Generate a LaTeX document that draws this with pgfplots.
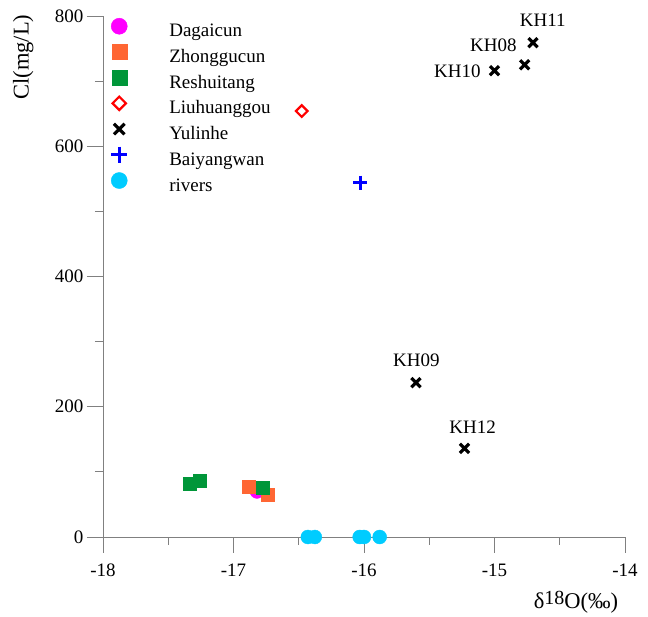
\documentclass[border=0pt]{standalone}
\usepackage{fontspec}
\setmainfont{Liberation Serif}
\usepackage{pgfplots}
\pgfplotsset{compat=1.18}

\definecolor{cDagai}{RGB}{255,0,255}
\definecolor{cZhong}{RGB}{255,102,51}
\definecolor{cReshui}{RGB}{0,150,57}
\definecolor{cLiu}{RGB}{255,0,0}
\definecolor{cBai}{RGB}{0,0,255}
\definecolor{cRiver}{RGB}{0,204,255}
\definecolor{axisgray}{RGB}{128,128,128}

\newcommand{\tickfont}{\fontsize{19}{23}\selectfont}
\newcommand{\labelfont}{\fontsize{22.5}{27}\selectfont}

\begin{document}
\begin{tikzpicture}[font=\tickfont]
\useasboundingbox (-103pt,-80pt) rectangle (545pt,537pt);
\begin{axis}[
  at={(0pt,0pt)}, anchor=south west,
  scale only axis, width=522pt, height=521pt,
  xmin=-18, xmax=-14, ymin=0, ymax=800,
  axis x line=bottom, axis y line=left,
  axis line style={-, axisgray, line width=0.8pt},
  xtick={-18,-17,-16,-15,-14},
  ytick={0,200,400,600,800},
  minor x tick num=1, minor y tick num=1,
  tick align=outside,
  major tick length=16pt, minor tick length=8pt,
  every tick/.style={axisgray, line width=0.8pt},
  /pgf/number format/assume math mode=true,
  xticklabel={\pgfmathprintnumber{\tick}},
  yticklabel={\pgfmathprintnumber{\tick}},
  tick label style={font=\tickfont},
  xticklabel style={yshift=-7pt},
  clip=false,
  xlabel={δ\raisebox{3.5pt}{\fontsize{20}{24}\selectfont 18}O(‰)},
  ylabel={Cl(mg/L)},
  xlabel style={font=\labelfont, at={(axis description cs:0.906,-0.125)}, anchor=center},
  ylabel style={font=\labelfont, at={(axis description cs:-0.153,0.921)}, anchor=center},
  legend cell align=left,
  legend image code/.code={%
    \path[draw=none,fill=none] (-8pt,-2pt) rectangle (8pt,14pt);
    \begin{scope}[every mark/.append style={scale=1.15}]
    \draw[#1] plot coordinates {(0pt,6pt)};
    \end{scope}},
  legend style={
    at={(axis description cs:0,1)}, anchor=north west,
    xshift=8pt, yshift=-2pt,
    draw=none, fill=none, inner sep=0pt,
    column sep=42pt, row sep=3.2pt,
    nodes={inner sep=0pt, text height=13pt, text depth=4pt, font=\tickfont},
  },
]
% Dagaicun
\addplot[only marks, mark=*, mark size=7pt, color=cDagai] coordinates {
  (-16.82,70)
};
\addlegendentry{Dagaicun}
% Zhonggucun
\addplot[only marks, mark=square*, mark size=6.5pt, color=cZhong] coordinates {
  (-16.885,77) (-16.74,65)
};
\addlegendentry{Zhonggucun}
% Reshuitang
\addplot[only marks, mark=square*, mark size=6.5pt, color=cReshui] coordinates {
  (-17.333,82) (-17.256,86) (-16.777,75)
};
\addlegendentry{Reshuitang}
% Liuhuanggou
\addplot[only marks, mark=square, mark size=4.1pt, color=cLiu,
  mark options={rotate=45, line width=2.2pt}] coordinates {
  (-16.477,654)
};
\addlegendentry{Liuhuanggou}
% Yulinhe
\addplot[only marks, mark=x, mark size=6.5pt, color=black,
  mark options={line width=3.2pt}] coordinates {
  (-14.705,759) (-14.769,725) (-15.0,716) (-15.602,237) (-15.23,136)
};
\addlegendentry{Yulinhe}
% Baiyangwan
\addplot[only marks, mark=+, mark size=7pt, color=cBai,
  mark options={line width=3pt}] coordinates {
  (-16.03,544)
};
\addlegendentry{Baiyangwan}
% rivers
\addplot[only marks, mark=*, mark size=7pt, color=cRiver] coordinates {
  (-16.43,0) (-16.377,0) (-16.033,0) (-16.0,0) (-15.88,0)
};
\addlegendentry{rivers}

% sample names
\node at (axis cs:-14.63,794) {KH11};
\node at (axis cs:-15.008,755.5) {KH08};
\node at (axis cs:-15.285,715.6) {KH10};
\node at (axis cs:-15.598,272) {KH09};
\node at (axis cs:-15.167,169) {KH12};
\end{axis}
\end{tikzpicture}
\end{document}
